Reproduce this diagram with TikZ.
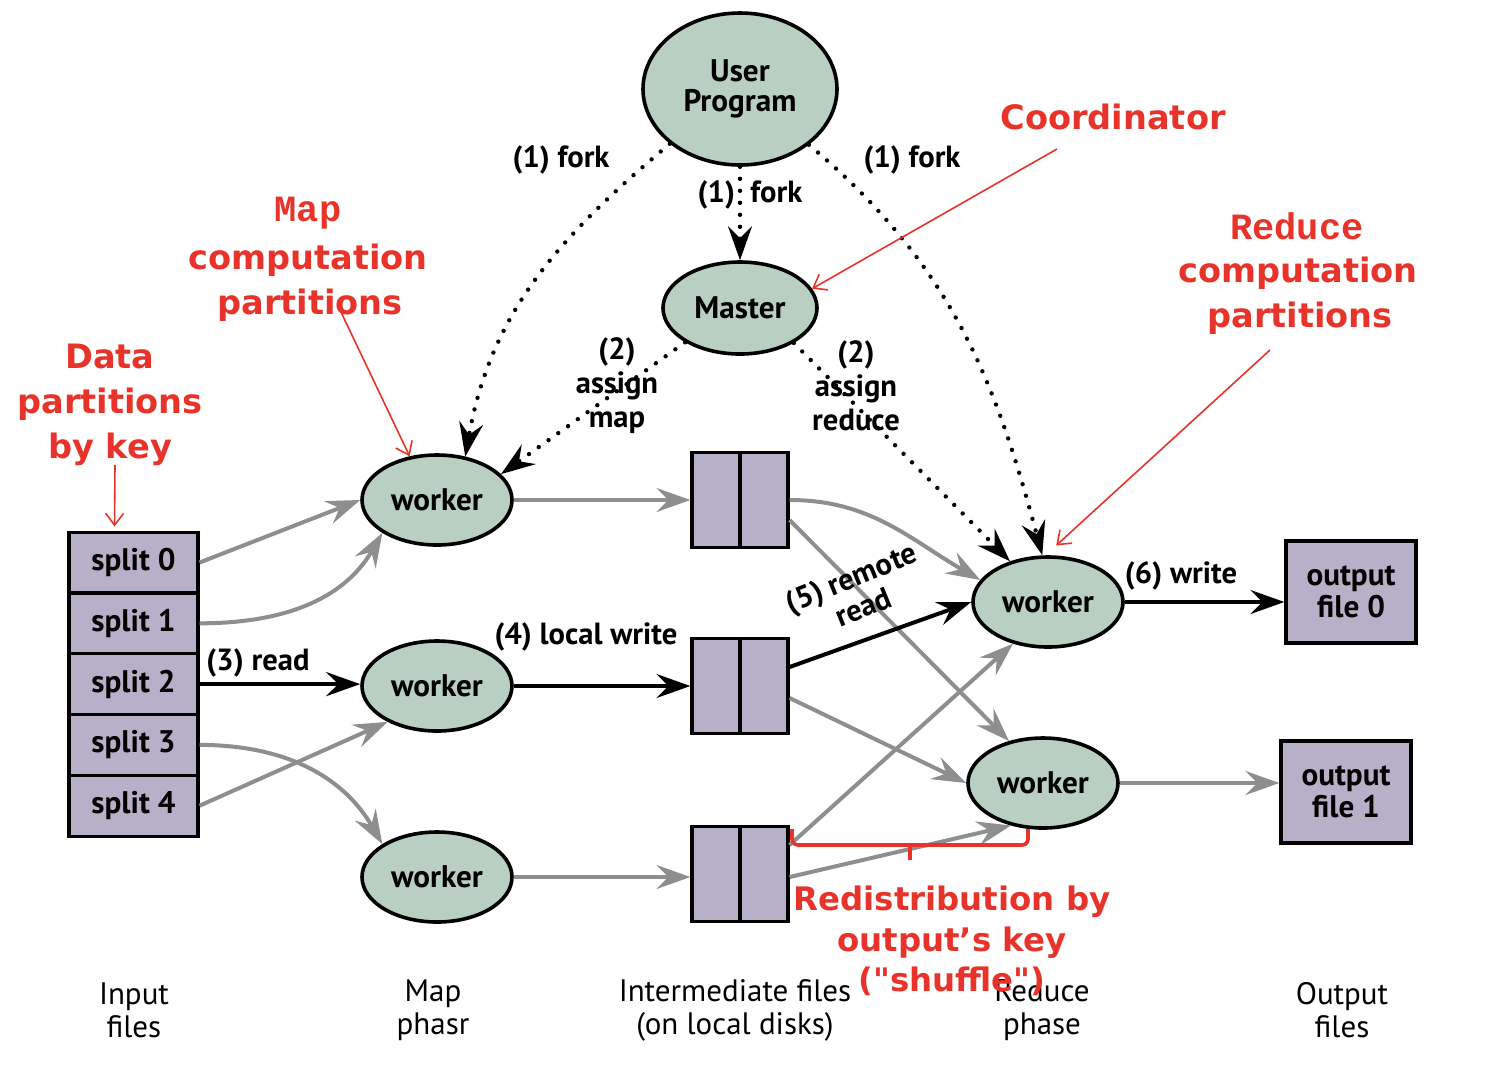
\documentclass[tikz,border=0pt]{standalone}
\usepackage{fontspec}
\setmainfont{PT Sans}
\newfontfamily\redfont{DejaVu Sans}
\newfontfamily\courfont{Liberation Mono}
\usetikzlibrary{shapes.geometric,arrows.meta,calc}
\definecolor{ellfill}{HTML}{B8CFC2}
\definecolor{boxfill}{HTML}{B8B0C8}
\definecolor{annred}{HTML}{E8332A}
\definecolor{flowgray}{HTML}{8E8E8E}
\begin{document}
\begin{tikzpicture}[x=0.5pt,y=-0.5pt,
  nodefont/.style={font=\fontsize{15.6}{16}\selectfont\bfseries},
  ell/.style={ellipse,draw=black,line width=1.8pt,fill=ellfill,inner sep=0pt,nodefont},
  workernode/.style={ell,minimum width=75pt,minimum height=45pt},
  filebox/.style={rectangle,draw=black,line width=1.6pt,fill=boxfill,inner sep=0pt,nodefont,align=center},
  splitbox/.style={filebox,minimum width=64.5pt,minimum height=30.4pt},
  interbox/.style={filebox,minimum width=48pt,minimum height=47.5pt},
  outbox/.style={filebox,minimum width=65pt,minimum height=51pt,font=\fontsize{15.6}{16}\selectfont\bfseries},
  tipstyle/.tip={Stealth[length=17pt,width=12pt,inset=6pt]},
  gflow/.style={draw=flowgray,line width=2pt,-tipstyle},
  bflow/.style={draw=black,line width=2pt,-tipstyle},
  forkline/.style={draw=black,line width=2.2pt,dash pattern=on 0pt off 6pt,line cap=round,-tipstyle},
  lbl/.style={font=\fontsize{15.3}{17}\selectfont\bfseries,align=center,inner sep=0pt},
  bottomlbl/.style={font=\fontsize{15.5}{16.5}\selectfont,align=center,inner sep=0pt},
  redtxt/.style={text=annred,font=\redfont\bfseries\fontsize{16.8}{22.5}\selectfont,align=center,inner sep=0pt},
  courtxt/.style={text=annred,font=\courfont\bfseries\fontsize{18.5}{20}\selectfont,inner sep=0pt},
  annarrow/.style={draw=annred,line width=0.8pt,-{Straight Barb[length=6pt,width=9pt]}}
]
\useasboundingbox (0,0) rectangle (1490,1084);

% ellipses
\node[ell,minimum width=97pt,minimum height=76pt,align=center,font=\fontsize{15.6}{15}\selectfont\bfseries] (UP) at (740,89) {User\\Program};
\node[ell,minimum width=77pt,minimum height=46pt] (M) at (740,308) {Master};
\node[workernode] (w1) at (437,500) {worker};
\node[workernode] (w2) at (437,686) {worker};
\node[workernode] (w3) at (437,877) {worker};
\node[workernode] (r1) at (1048,602) {worker};
\node[workernode] (r2) at (1043,783) {worker};

% splits
\node[splitbox] (s0) at (133.5,562.5) {split 0};
\node[splitbox] (s1) at (133.5,623.3) {split 1};
\node[splitbox] (s2) at (133.5,684.1) {split 2};
\node[splitbox] (s3) at (133.5,744.9) {split 3};
\node[splitbox] (s4) at (133.5,805.7) {split 4};

% intermediate files
\node[interbox] (b1) at (740,500) {};
\node[interbox] (b2) at (740,686) {};
\node[interbox] (b3) at (740,874) {};
\foreach \b in {b1,b2,b3} \draw[line width=1.6pt] (\b.north) -- (\b.south);

% outputs
\node[outbox] (o0) at (1351,592) {output\\file 0};
\node[outbox] (o1) at (1346,792) {output\\file 1};

% map inputs
\draw[gflow] (s0.east) -- (w1.west);
\draw[gflow] (s1.east) to[out=0,in=240] (w1.211);
\draw[bflow] (s2.east) -- (s2.east -| w2.west);
\draw[gflow] (s3.east) to[out=0,in=120] (w3.149);
\draw[gflow] (s4.east) -- (w2.216);

% map outputs
\draw[gflow] (w1.east) -- (w1.east -| b1.west);
\draw[bflow] (w2.east) -- (w2.east -| b2.west);
\draw[gflow] (w3.east) -- (w3.east -| b3.west);

% shuffle
\draw[gflow] (b1.east) to[out=0,in=150] (r1.162);
\draw[gflow] ([yshift=-10pt]b1.east) -- (r2.129);
\draw[bflow] ([yshift=9.5pt]b2.east) -- (r1.west);
\draw[gflow] ([yshift=-6pt]b2.east) -- (r2.west);
\draw[gflow] ([yshift=14.5pt]b3.east) -- (r1.230);
\draw[gflow] ([yshift=-1.5pt]b3.east) -- (r2.233);

% outputs
\draw[bflow] (r1.east) -- (r1.east -| o0.west);
\draw[gflow] (r2.east) -- (r2.east -| o1.west);

% forks
\draw[forkline] (UP.218) to[out=-140,in=80] (w1.57);
\draw[forkline] (UP.south) -- (M.north);
\draw[forkline] (UP.-39) to[out=-40,in=105] (r1.97);
\draw[forkline] (M.212) -- (w1.22);
\draw[forkline] (M.-33) -- (r1.133);

% labels
\node[lbl] (lf1) at (561,160) {(1) fork};
\node[lbl] (lf2) at (750,195) {(1)\ \ fork};
\node[lbl] (lf3) at (912,160) {(1) fork};
\node[lbl] (la1) at (617,386) {(2)\\assign\\map};
\node[lbl] (la2) at (856,386) {(2)\\assign\\reduce};
\node[lbl] (lr) at (258,663) {(3) read};
\node[lbl] (lw) at (586,637) {(4) local write};
\node[lbl,rotate=22,font=\fontsize{15.3}{16}\selectfont\bfseries] (lrr) at (857,592) {(5) remote\\read};
\node[lbl] (l6) at (1181,576) {(6) write};

% bottom labels
\node[bottomlbl] (bl1) at (134,1010) {Input\\files};
\node[bottomlbl] (bl2) at (433,1010) {Map\\phasr};
\node[bottomlbl] (bl3) at (735,1010) {Intermediate files\\(on local disks)};
\node[bottomlbl] (bl4) at (1042,1010) {Reduce\\phase};
\node[bottomlbl] (bl5) at (1342,1010) {Output\\files};

% red annotations
\node[courtxt] (mapw) at (308,213) {Map};
\node[redtxt] (mapc) at (308,260) {computation};
\node[redtxt] (mapp) at (310,305) {partitions};
\coordinate (mapA) at (340,310);
\draw[annarrow] (mapA) -- (w1.122);

\node[redtxt] (data) at (110,405) {Data\\partitions\\by key};
\coordinate (dataA) at (115,465);
\draw[annarrow] (dataA) -- ([xshift=-9.5pt,yshift=2pt]s0.north);

\node[redtxt] (coord) at (1113,117) {Coordinator};
\coordinate (coordA) at (1057,149);
\draw[annarrow] (coordA) -- (M.15);

\node[courtxt] (redw) at (1297,226) {Reduce};
\node[redtxt] (redc) at (1298,273) {computation};
\node[redtxt] (redp) at (1300,318) {partitions};
\coordinate (redA) at (1270,350);
\draw[annarrow] (redA) -- ([yshift=5pt]r1.80);

\draw[annred,line width=1.8pt,rounded corners=3pt] (792,829) -- (792,845) -- (1028,845) -- (1028,829);
\draw[annred,line width=1.8pt] (910,845) -- (910,860);
\node[redtxt,font=\redfont\bfseries\fontsize{16.2}{20.3}\selectfont] (shuf) at (952,941) {Redistribution by\\output’s key\\("shuffle")};
\end{tikzpicture}
\end{document}
